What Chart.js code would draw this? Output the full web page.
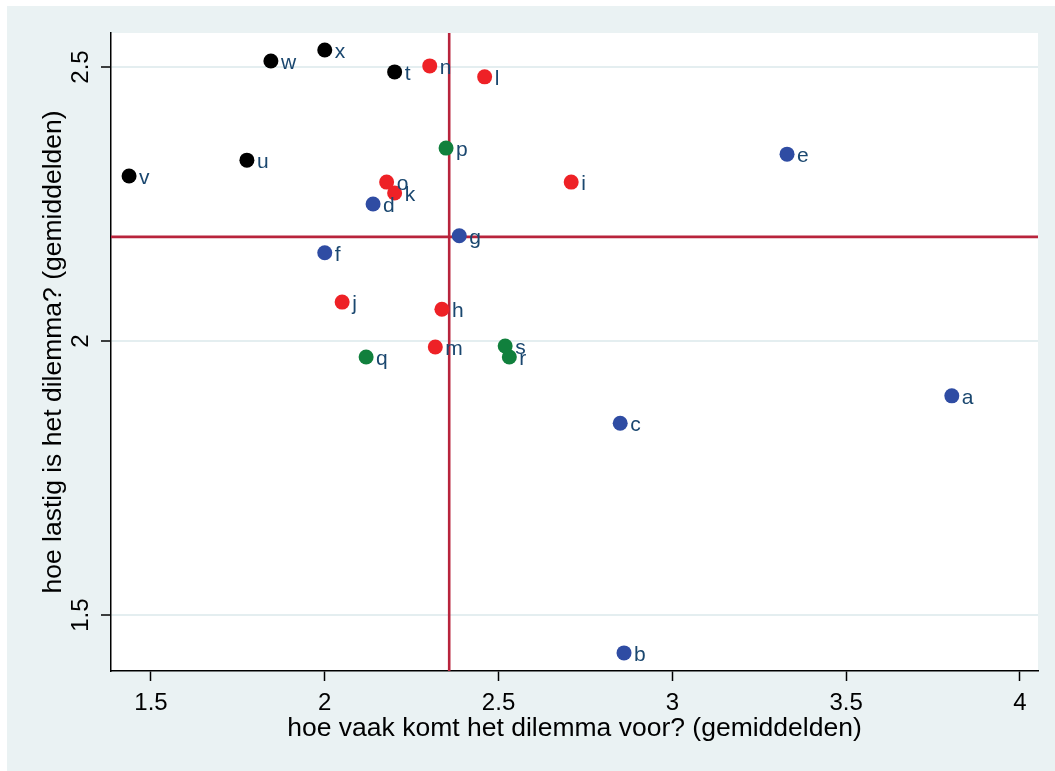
<!DOCTYPE html>
<html>
<head>
<meta charset="utf-8">
<script src="https://cdn.jsdelivr.net/npm/chart.js@4/dist/chart.umd.min.js"></script>
<style>
  html, body { margin: 0; padding: 0; background: #ffffff; }
  #wrap { width: 1055px; height: 771px; position: relative; }
</style>
</head>
<body>
<div id="wrap"><canvas id="dilemmaChart"></canvas></div>
<script>
// gegevens per groep (gemiddelden)
const blueLabels = ['a', 'b', 'c', 'd', 'e', 'f', 'g'];
const blueX = [3.804, 2.861, 2.850, 2.139, 3.330, 2.000, 2.387];
const blueY = [1.900, 1.431, 1.850, 2.250, 2.341, 2.161, 2.192];

const redLabels = ['h', 'i', 'j', 'k', 'l', 'm', 'n', 'o'];
const redX = [2.337, 2.709, 2.050, 2.201, 2.460, 2.318, 2.302, 2.178];
const redY = [2.058, 2.290, 2.071, 2.270, 2.482, 1.989, 2.502, 2.290];

const greenLabels = ['p', 'q', 'r', 's'];
const greenX = [2.349, 2.119, 2.531, 2.519];
const greenY = [2.352, 1.971, 1.971, 1.991];

const blackLabels = ['t', 'u', 'v', 'w', 'x'];
const blackX = [2.201, 1.776, 1.437, 1.845, 2.000];
const blackY = [2.491, 2.330, 2.301, 2.511, 2.531];

// referentielijnen (gemiddelde)
const meanX = 2.358;
const meanY = 2.190;

const xTicks = [1.5, 2, 2.5, 3, 3.5, 4];
const yTicks = [1.5, 2, 2.5];

const xTitle = 'hoe vaak komt het dilemma voor? (gemiddelden)';
const yTitle = 'hoe lastig is het dilemma? (gemiddelden)';

const FONT = "'Liberation Sans', Arial, sans-serif";
const LABEL_COLOR = '#1a476f';
const REF_COLOR = '#b8243c';

function toPoints(xs, ys, labels) {
    return xs.map((x, i) => ({ x: x, y: ys[i], label: labels[i] }));
}

function makeSet(name, xs, ys, labels, color) {
    return {
        label: name,
        data: toPoints(xs, ys, labels),
        backgroundColor: color,
        borderColor: color,
        borderWidth: 0,
        pointRadius: 7.5,
        pointHoverRadius: 7.5
    };
}

// achtergrond (grafiekregio)
const backgroundPlugin = {
    id: 'background',
    beforeDraw(chart) {
        const ctx = chart.ctx;
        const a = chart.chartArea;
        ctx.save();
        ctx.fillStyle = '#eaf2f3';
        ctx.fillRect(7, 6, chart.width - 7, chart.height - 6);
        ctx.fillStyle = '#ffffff';
        ctx.fillRect(a.left, a.top, a.right - a.left, a.bottom - a.top);
        ctx.restore();
    }
};

// rode lijnen op de gemiddelden
const refLinePlugin = {
    id: 'refLines',
    beforeDatasetsDraw(chart) {
        const ctx = chart.ctx;
        const a = chart.chartArea;
        const px = chart.scales.x.getPixelForValue(meanX);
        const py = chart.scales.y.getPixelForValue(meanY);
        ctx.save();
        ctx.strokeStyle = REF_COLOR;
        ctx.lineWidth = 2.6;
        ctx.beginPath();
        ctx.moveTo(px, a.top);
        ctx.lineTo(px, a.bottom);
        ctx.moveTo(a.left, py);
        ctx.lineTo(a.right, py);
        ctx.stroke();
        ctx.restore();
    }
};

// letters naast de punten, y-as labels gedraaid, astitels
const labelPlugin = {
    id: 'pointLabels',
    afterDatasetsDraw(chart) {
        const ctx = chart.ctx;
        ctx.save();
        ctx.font = '21px ' + FONT;
        ctx.fillStyle = LABEL_COLOR;
        ctx.textAlign = 'left';
        ctx.textBaseline = 'middle';
        chart.data.datasets.forEach((ds, i) => {
            const meta = chart.getDatasetMeta(i);
            meta.data.forEach((el, j) => {
                ctx.fillText(ds.data[j].label, el.x + 10, el.y + 2);
            });
        });
        ctx.restore();
    },
    afterDraw(chart) {
        const ctx = chart.ctx;
        const a = chart.chartArea;
        const yScale = chart.scales.y;
        ctx.save();
        ctx.fillStyle = '#000000';
        ctx.textAlign = 'center';
        ctx.textBaseline = 'middle';
        ctx.font = '24px ' + FONT;
        yTicks.forEach(v => {
            const py = yScale.getPixelForValue(v);
            ctx.save();
            ctx.translate(81, py);
            ctx.rotate(-Math.PI / 2);
            ctx.fillText(String(v), 0, 0);
            ctx.restore();
        });
        ctx.font = '26.5px ' + FONT;
        ctx.fillText(xTitle, (a.left + a.right) / 2, 729);
        ctx.translate(54, (a.top + a.bottom) / 2);
        ctx.rotate(-Math.PI / 2);
        ctx.fillText(yTitle, 0, 0);
        ctx.restore();
    }
};

document.addEventListener('DOMContentLoaded', function () {
    const canvas = document.getElementById('dilemmaChart');
    canvas.width = 1055;
    canvas.height = 771;

    new Chart(canvas.getContext('2d'), {
        type: 'scatter',
        data: {
            datasets: [
                makeSet('blauw', blueX, blueY, blueLabels, '#2f4ca3'),
                makeSet('rood', redX, redY, redLabels, '#ee2126'),
                makeSet('groen', greenX, greenY, greenLabels, '#11803d'),
                makeSet('zwart', blackX, blackY, blackLabels, '#000000')
            ]
        },
        options: {
            responsive: false,
            animation: false,
            events: [],
            layout: { padding: { top: 33, right: 17, left: 0, bottom: 0 } },
            plugins: {
                legend: { display: false },
                tooltip: { enabled: false }
            },
            scales: {
                x: {
                    type: 'linear',
                    min: 1.385,
                    max: 4.052,
                    afterBuildTicks: (scale) => { scale.ticks = xTicks.map(v => ({ value: v })); },
                    afterFit: (scale) => { scale.height = 100; },
                    border: { display: true, color: '#000000', width: 1.5 },
                    grid: {
                        drawOnChartArea: false,
                        drawTicks: true,
                        tickLength: 10,
                        tickColor: '#000000',
                        tickWidth: 1.5
                    },
                    ticks: {
                        color: '#000000',
                        padding: 8,
                        maxRotation: 0,
                        font: { size: 24, family: FONT },
                        callback: (v) => String(v)
                    },
                    title: { display: false }
                },
                y: {
                    type: 'linear',
                    min: 1.398,
                    max: 2.562,
                    afterBuildTicks: (scale) => { scale.ticks = yTicks.map(v => ({ value: v })); },
                    afterFit: (scale) => { scale.width = 111; },
                    border: { display: true, color: '#000000', width: 1.5 },
                    grid: {
                        color: '#e4eef0',
                        lineWidth: 2,
                        drawTicks: true,
                        tickLength: 10,
                        tickColor: '#000000',
                        tickWidth: 1.5
                    },
                    ticks: { display: false }
                }
            }
        },
        plugins: [backgroundPlugin, refLinePlugin, labelPlugin]
    });
});
</script>
</body>
</html>
